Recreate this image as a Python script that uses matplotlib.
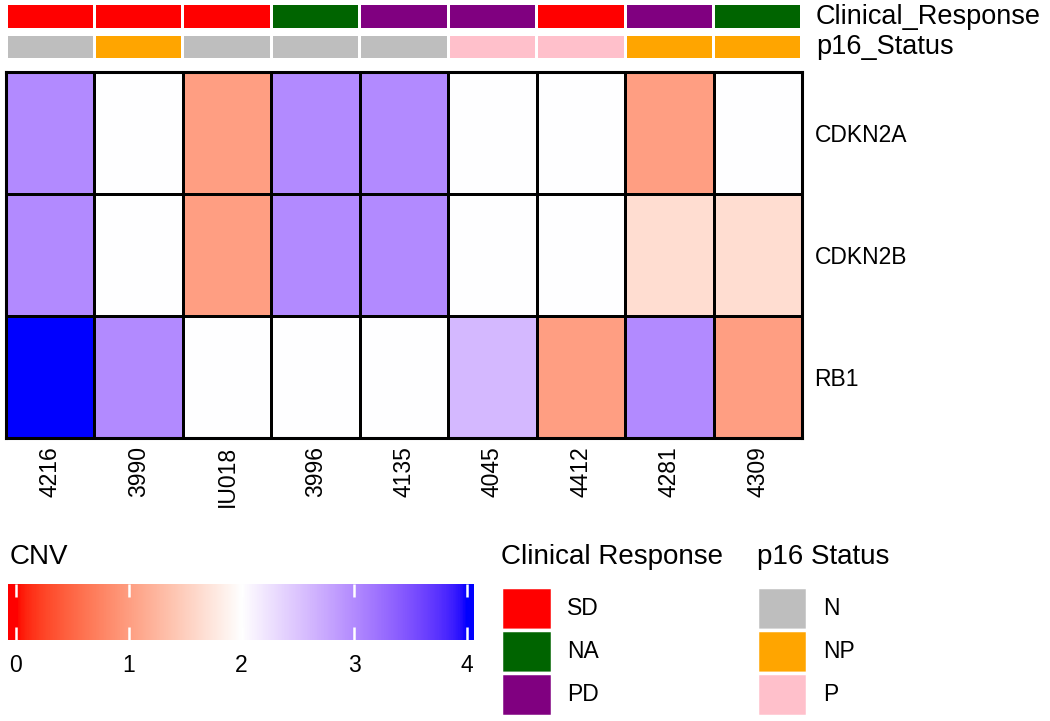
import numpy as np
import matplotlib
matplotlib.use("Agg")
import matplotlib.pyplot as plt
from matplotlib.colors import ListedColormap, Normalize

plt.rcParams["font.family"] = ["Liberation Sans", "DejaVu Sans"]

# Data
samples = ["4216", "3990", "IU018", "3996", "4135", "4045", "4412", "4281", "4309"]
genes = ["CDKN2A", "CDKN2B", "RB1"]
cdkn2a = [3, 2, 1, 3, 3, 2, 2, 1, 2]
cdkn2b = [3, 2, 1, 3, 3, 2, 2, 1.65, 1.65]
rb1 = [4, 3, 2, 2, 2, 2.6, 1, 3, 1]
clinical = ["SD", "SD", "SD", "NA", "PD", "PD", "SD", "PD", "NA"]
p16 = ["N", "NP", "N", "N", "N", "P", "P", "NP", "NP"]

clinical_levels = ["SD", "NA", "PD"]
clinical_colors = {"SD": "#FF0000", "NA": "#006400", "PD": "#800080"}
p16_levels = ["N", "NP", "P"]
p16_colors = {"N": "#BEBEBE", "NP": "#FFA500", "P": "#FFC0CB"}
cnv_breaks = [0, 2, 4]
cnv_break_colors = [(1, 0, 0), (1, 1, 1), (0, 0, 1)]
cnv_ticks = [0, 1, 2, 3, 4]


# colour ramp interpolated in Lab space (like colorRamp2)
def srgb_to_lab(rgb):
    rgb = np.asarray(rgb, float)
    lin = np.where(rgb <= 0.04045, rgb / 12.92, ((rgb + 0.055) / 1.055) ** 2.4)
    m = np.array([[0.4124, 0.3576, 0.1805], [0.2126, 0.7152, 0.0722], [0.0193, 0.1192, 0.9505]])
    xyz = m @ lin / np.array([0.95047, 1.0, 1.08883])
    f = np.where(xyz > 0.008856, np.cbrt(xyz), 7.787 * xyz + 16 / 116)
    return np.array([116 * f[1] - 16, 500 * (f[0] - f[1]), 200 * (f[1] - f[2])])


def lab_to_srgb(lab):
    L, a, b = lab
    fy = (L + 16) / 116
    f = np.array([fy + a / 500, fy, fy - b / 200])
    xyz = np.where(f ** 3 > 0.008856, f ** 3, (f - 16 / 116) / 7.787) * np.array([0.95047, 1.0, 1.08883])
    m = np.array([[3.2406, -1.5372, -0.4986], [-0.9689, 1.8758, 0.0415], [0.0557, -0.2040, 1.0570]])
    lin = np.clip(m @ xyz, 0, 1)
    return np.where(lin <= 0.0031308, 12.92 * lin, 1.055 * lin ** (1 / 2.4) - 0.055)


labs = [srgb_to_lab(c) for c in cnv_break_colors]
ramp = []
for v in np.linspace(cnv_breaks[0], cnv_breaks[-1], 256):
    i = min(int(np.searchsorted(cnv_breaks, v, side="right")) - 1, len(cnv_breaks) - 2)
    t = (v - cnv_breaks[i]) / (cnv_breaks[i + 1] - cnv_breaks[i])
    ramp.append(lab_to_srgb(labs[i] * (1 - t) + labs[i + 1] * t))
cmap = ListedColormap(ramp)
norm = Normalize(cnv_breaks[0], cnv_breaks[-1])

W, H = 1050, 721
fig = plt.figure(figsize=(W / 100, H / 100), dpi=100)


def box(x0, y0, x1, y1):
    return [x0 / W, 1 - y1 / H, (x1 - x0) / W, (y1 - y0) / H]


n = len(samples)

# main heatmap
ax = fig.add_axes(box(6, 72, 802, 438))
mat = np.array([cdkn2a, cdkn2b, rb1])
ax.pcolormesh(np.arange(n + 1), np.arange(len(genes) + 1), mat, cmap=cmap, norm=norm,
              edgecolors="black", linewidth=1.8)
ax.set_xlim(0, n)
ax.set_ylim(len(genes), 0)
ax.set_xticks(np.arange(n) + 0.5)
ax.set_xticklabels(samples, rotation=90, fontsize=16.5)
ax.set_yticks(np.arange(len(genes)) + 0.5)
ax.set_yticklabels(genes, fontsize=16.5)
ax.yaxis.tick_right()
ax.tick_params(axis="x", length=0, pad=6)
ax.tick_params(axis="y", length=0, pad=9)
for s in ax.spines.values():
    s.set_linewidth(2.2)

# annotation bars
annots = [("Clinical_Response", clinical, clinical_colors, (5, 28)),
          ("p16_Status", p16, p16_colors, (36, 58))]
for name, vals, cols, (y0, y1) in annots:
    a = fig.add_axes(box(6, y0, 802, y1))
    a.bar(np.arange(n) + 0.5, 1, width=0.966, color=[cols[v] for v in vals], linewidth=0)
    a.set_xlim(0, n)
    a.set_ylim(0, 1)
    a.axis("off")
    fig.text(816 / W, 1 - (y0 + y1) / 2 / H, name, fontsize=19.5, va="center", ha="left")

# CNV colour bar legend
fig.text(10 / W, 1 - 557 / H, "CNV", fontsize=20, va="center", ha="left")
cax = fig.add_axes(box(8, 584, 474, 640))
lo, hi = -0.07, 4.06
grad = np.linspace(lo, hi, 600)[None, :]
cax.imshow(grad, extent=(lo, hi, 0, 1), aspect="auto", cmap=cmap, norm=norm)
cax.set_xlim(lo, hi)
cax.set_yticks([])
cax.set_xticks(cnv_ticks)
cax.set_xticklabels([str(t) for t in cnv_ticks], fontsize=16.5)
cax.xaxis.set_ticks_position("both")
cax.tick_params(axis="x", direction="in", length=9.5, width=1.8, color="white",
                labelcolor="black", pad=10, labeltop=False)
for s in cax.spines.values():
    s.set_visible(False)

# categorical legends
legends = [("Clinical Response", clinical_levels, clinical_colors, 501, 552, 567),
           ("p16 Status", p16_levels, p16_colors, 757, 807, 823)]
for title, levels, cols, x0, x1, xt in legends:
    fig.text(x0 / W, 1 - 557 / H, title, fontsize=20, va="center", ha="left")
    la = fig.add_axes(box(x0, 587, x1, 716))
    la.barh(np.arange(len(levels)), 1, height=1, left=0, color=[cols[l] for l in levels],
            edgecolor="white", linewidth=2.5)
    la.set_xlim(0, 1)
    la.set_ylim(len(levels) - 0.5, -0.5)
    la.axis("off")
    for i, l in enumerate(levels):
        la.text(1 + (xt - x1) / (x1 - x0), i, l, fontsize=16.5, va="center", ha="left",
                transform=la.transData)

fig.savefig("out.png", dpi=100)
